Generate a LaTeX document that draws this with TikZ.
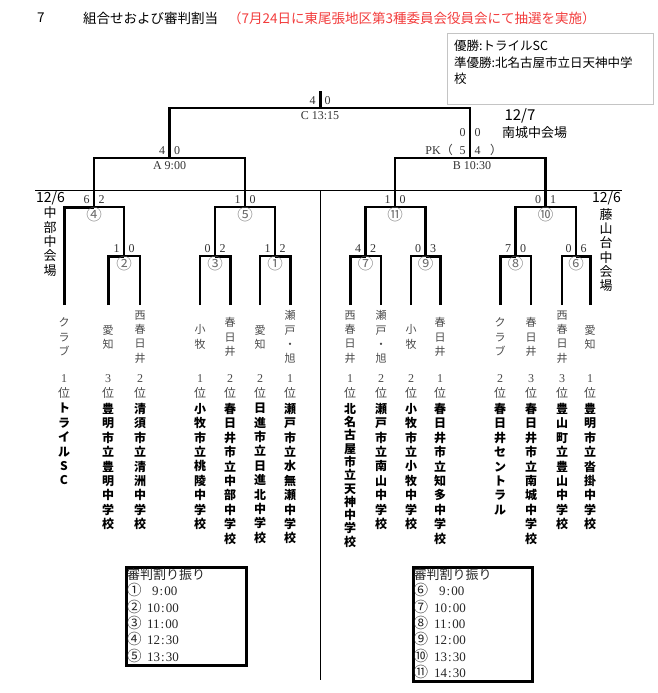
\documentclass[tikz,border=0pt]{standalone}
\usepackage{fontspec}
\setmainfont{Liberation Serif}
\newfontfamily\jp{Noto Sans CJK JP}
\usepackage{xcolor}
\usepackage{tikz}
\usetikzlibrary{positioning}

\definecolor{areagray}{HTML}{4A4A4A}
\definecolor{scoregray}{HTML}{333333}
\definecolor{numgray}{HTML}{6E6E6E}
\definecolor{framegray}{HTML}{C4C4C4}
\definecolor{notered}{HTML}{F23C3C}

% vertical (tategaki) text: one character per line
\newcommand{\tate}[1]{\tateA#1\relax}
\def\tateA#1{#1\tateB}
\def\tateB#1{\ifx\relax#1\expandafter\tateEnd\else\expandafter\tateC\fi#1}
\def\tateC#1{\\#1\tateB}
\def\tateEnd#1{}

\newcommand{\clock}[2]{#1\kern1pt:\kern1pt#2}
\newcommand{\cnum}[1]{{\jp\fontsize{14.5}{16}\selectfont #1}}

% scores left / right above a match line
\newcommand{\score}[4]{%
  \node[sc] (#1-l) at ([shift={(-7.5,-7.5)}]#2) {#3};
  \node[sc] (#1-r) at ([shift={(7.5,-7.5)}]#2) {#4};
}

% one team column under its leg
\newcommand{\team}[5][]{%
  \node[area] (a#2) at ([shift={(0,32)}]t#2) {\tate{#3}};
  \node[rank] (r#2) at ([shift={(0,81.5)}]t#2) {#4\\{\jp 位}};
  \node[school,#1] (sch#2) at ([shift={(0,98)}]t#2) {\tate{#5}};
}

\begin{document}
\begin{tikzpicture}[
  x=1pt, y=-1pt,
  win/.style={line width=3pt},
  lose/.style={line width=1.7pt},
  link/.style={line width=2.6pt},
  frame/.style={line width=0.9pt},
  sc/.style={inner sep=0pt, text=scoregray, font=\fontsize{12}{14}\selectfont},
  mno/.style={inner sep=0pt, text=numgray, font=\jp\fontsize{15.5}{17}\selectfont},
  area/.style={inner sep=0pt, align=center, text=areagray, font=\jp\fontsize{11}{14.3}\selectfont},
  rank/.style={inner sep=0pt, align=center, text=areagray, font=\fontsize{12}{15}\selectfont},
  school/.style={inner sep=0pt, align=center, anchor=north, font=\jp\bfseries\fontsize{12}{14.4}\selectfont},
  tight/.style={font=\jp\bfseries\fontsize{12}{13.3}\selectfont},
  venue/.style={inner sep=0pt, align=center, font=\jp\fontsize{13}{14.3}\selectfont},
  ttl/.style={anchor=west, inner sep=0pt, font=\jp\fontsize{13.5}{16}\selectfont},
  resbox/.style={draw=framegray, line width=1pt, anchor=north west},
  refbox/.style={draw, line width=2.5pt, anchor=north west},
  reftext/.style={anchor=north west, inner sep=0pt, align=left, text=black!85, font=\fontsize{13}{16.3}\selectfont}
]
\useasboundingbox (0,0) rectangle (657,693);

% title and result
\node[ttl] (num) at (37,18) {7};
\node[ttl] (title) at (83,18) {組合せおよび審判割当};
\node[ttl, text=notered] (note) at (228,18) {（7月24日に東尾張地区第3種委員会役員会にて抽選を実施）};
\node[resbox, minimum width=206pt, minimum height=71pt] (result) at (447,33) {};
\node[anchor=north west, inner sep=0pt, align=left, font=\jp\fontsize{12.5}{16.3}\selectfont] (restext) at (454,40) {優勝:トライルSC\\準優勝:北名古屋市立日天神中学\\校};

% venues
\node[venue, font=\jp\fontsize{14}{16}\selectfont] (d6l) at (50.5,198) {12/6};
\node[venue] (v6l) at (50,241.5) {\tate{中部中会場}};
\node[venue, font=\jp\fontsize{14}{16}\selectfont] (d6r) at (606.5,198) {12/6};
\node[venue] (v6r) at (606,250) {\tate{藤山台中会場}};
\node[venue, font=\jp\fontsize{15}{17}\selectfont] (d7) at (520,116) {12/7};
\node[venue] (v7) at (534.5,133) {南城中会場};

% frame lines
\coordinate (fl) at (35,190);
\coordinate (fr) at (622,190);
\coordinate (ftop) at (320,190);
\coordinate (fbot) at (320,680);
\draw[frame] (fl) -- (fr);
\draw[frame] (ftop) -- (fbot);

% legs
\coordinate (t1) at (64,305);
\coordinate (t2) at (108,305);
\coordinate (t3) at (140,305);
\coordinate (t4) at (200,305);
\coordinate (t5) at (230,305);
\coordinate (t6) at (260,305);
\coordinate (t7) at (290,305);
\coordinate (t8) at (350,305);
\coordinate (t9) at (381,305);
\coordinate (t10) at (411,305);
\coordinate (t11) at (440,305);
\coordinate (t12) at (500,305);
\coordinate (t13) at (531,305);
\coordinate (t14) at (562,305);
\coordinate (t15) at (590,305);

% matches
\coordinate (m2) at (124,256);
\coordinate (m3) at (215,256);
\coordinate (m1) at (275,256);
\coordinate (m4) at (94,207);
\coordinate (m5) at (245,207);
\coordinate (mA) at (169.5,158);
\coordinate (m7) at (365.5,256);
\coordinate (m9) at (425.5,256);
\coordinate (m8) at (515.5,256);
\coordinate (m6) at (576,256);
\coordinate (m11) at (395,207);
\coordinate (m10) at (545.5,207);
\coordinate (mB) at (470,158);
\coordinate (mC) at (320,108);
\coordinate (top) at (320,91);

% left block
\draw[win] (t2) |- (m2);
\draw[lose] (t3) |- (m2);
\draw[lose] (t4) |- (m3);
\draw[win] (t5) |- (m3);
\draw[lose] (t6) |- (m1);
\draw[win] (t7) |- (m1);
\draw[win] (t1) |- (m4);
\draw[link] (m2) |- (m4);
\draw[link] (m3) |- (m5);
\draw[link] (m1) |- (m5);
\draw[link] (m4) |- (mA);
\draw[link] (m5) |- (mA);
\draw[link] (mA) |- (mC);

% right block
\draw[win] (t8) |- (m7);
\draw[lose] (t9) |- (m7);
\draw[lose] (t10) |- (m9);
\draw[win] (t11) |- (m9);
\draw[win] (t12) |- (m8);
\draw[lose] (t13) |- (m8);
\draw[lose] (t14) |- (m6);
\draw[win] (t15) |- (m6);
\draw[link] (m7) |- (m11);
\draw[link] (m9) |- (m11);
\draw[link] (m8) |- (m10);
\draw[link] (m6) |- (m10);
\draw[link] (m11) |- (mB);
\draw[link] (m10) |- (mB);
\draw[link] (mB) |- (mC);
\draw[win] (mC) -- (top);

% scores
\score{sc2}{m2}{1}{0}
\score{sc3}{m3}{0}{2}
\score{sc1}{m1}{1}{2}
\score{sc4}{m4}{6}{2}
\score{sc5}{m5}{1}{0}
\score{scA}{mA}{4}{0}
\score{scC}{mC}{4}{0}
\score{sc7}{m7}{4}{2}
\score{sc9}{m9}{0}{3}
\score{sc8}{m8}{7}{0}
\score{sc6}{m6}{0}{6}
\score{sc11}{m11}{1}{0}
\score{sc10}{m10}{0}{1}
\score{scB}{mB}{5}{4}
\node[sc] (scB0-l) at ([shift={(-7.5,-25)}]mB) {0};
\node[sc] (scB0-r) at ([shift={(7.5,-25)}]mB) {0};
\node[sc, anchor=east] (pk) at ([shift={(-17,-8)}]mB) {PK{\jp （}};
\node[sc] (pkend) at ([shift={(26,-8)}]mB) {{\jp ）}};

% match names
\node[sc] (lA) at ([shift={(0,8)}]mA) {A 9:00};
\node[sc] (lB) at ([shift={(2,8)}]mB) {B 10:30};
\node[sc] (lC) at ([shift={(0,8)}]mC) {C 13:15};

% match numbers
\node[mno] (n2) at ([shift={(0,7.5)}]m2) {②};
\node[mno] (n3) at ([shift={(0,7.5)}]m3) {③};
\node[mno] (n1) at ([shift={(0,7.5)}]m1) {①};
\node[mno] (n4) at ([shift={(0,7.5)}]m4) {④};
\node[mno] (n5) at ([shift={(0,7.5)}]m5) {⑤};
\node[mno] (n7) at ([shift={(0,7.5)}]m7) {⑦};
\node[mno] (n9) at ([shift={(0,7.5)}]m9) {⑨};
\node[mno] (n8) at ([shift={(0,7.5)}]m8) {⑧};
\node[mno] (n6) at ([shift={(0,7.5)}]m6) {⑥};
\node[mno] (n11) at ([shift={(0,7.5)}]m11) {⑪};
\node[mno] (n10) at ([shift={(0,7.5)}]m10) {⑩};

% teams
\team{1}{クラブ}{1}{トライルSC}
\team{2}{愛知}{3}{豊明市立豊明中学校}
\team{3}{西春日井}{2}{清須市立清洲中学校}
\team{4}{小牧}{1}{小牧市立桃陵中学校}
\team{5}{春日井}{2}{春日井市立中部中学校}
\team{6}{愛知}{2}{日進市立日進北中学校}
\team{7}{瀬戸・旭}{1}{瀬戸市立水無瀬中学校}
\team[tight]{8}{西春日井}{1}{北名古屋市立天神中学校}
\team{9}{瀬戸・旭}{2}{瀬戸市立南山中学校}
\team{10}{小牧}{2}{小牧市立小牧中学校}
\team{11}{春日井}{1}{春日井市立知多中学校}
\team{12}{クラブ}{2}{春日井セントラル}
\team{13}{春日井}{3}{春日井市立南城中学校}
\team{14}{西春日井}{3}{豊山町立豊山中学校}
\team{15}{愛知}{1}{豊明市立沓掛中学校}

% referee tables
\node[refbox, minimum width=120pt, minimum height=98pt] (refL) at (125,566) {};
\node[reftext] (refLtxt) at (127,568.5) {{\jp 審判割り振り}\\
  \makebox[25pt][l]{\cnum{①}}\clock{9}{00}\\
  \makebox[20pt][l]{\cnum{②}}\clock{10}{00}\\
  \makebox[20pt][l]{\cnum{③}}\clock{11}{00}\\
  \makebox[20pt][l]{\cnum{④}}\clock{12}{30}\\
  \makebox[20pt][l]{\cnum{⑤}}\clock{13}{30}};
\node[refbox, minimum width=119pt, minimum height=114pt] (refR) at (412,566) {};
\node[reftext] (refRtxt) at (413.5,568.5) {{\jp 審判割り振り}\\
  \makebox[25.5pt][l]{\cnum{⑥}}\clock{9}{00}\\
  \makebox[20.5pt][l]{\cnum{⑦}}\clock{10}{00}\\
  \makebox[20.5pt][l]{\cnum{⑧}}\clock{11}{00}\\
  \makebox[20.5pt][l]{\cnum{⑨}}\clock{12}{00}\\
  \makebox[20.5pt][l]{\cnum{⑩}}\clock{13}{30}\\
  \makebox[20.5pt][l]{\cnum{⑪}}\clock{14}{30}};
\end{tikzpicture}
\end{document}
